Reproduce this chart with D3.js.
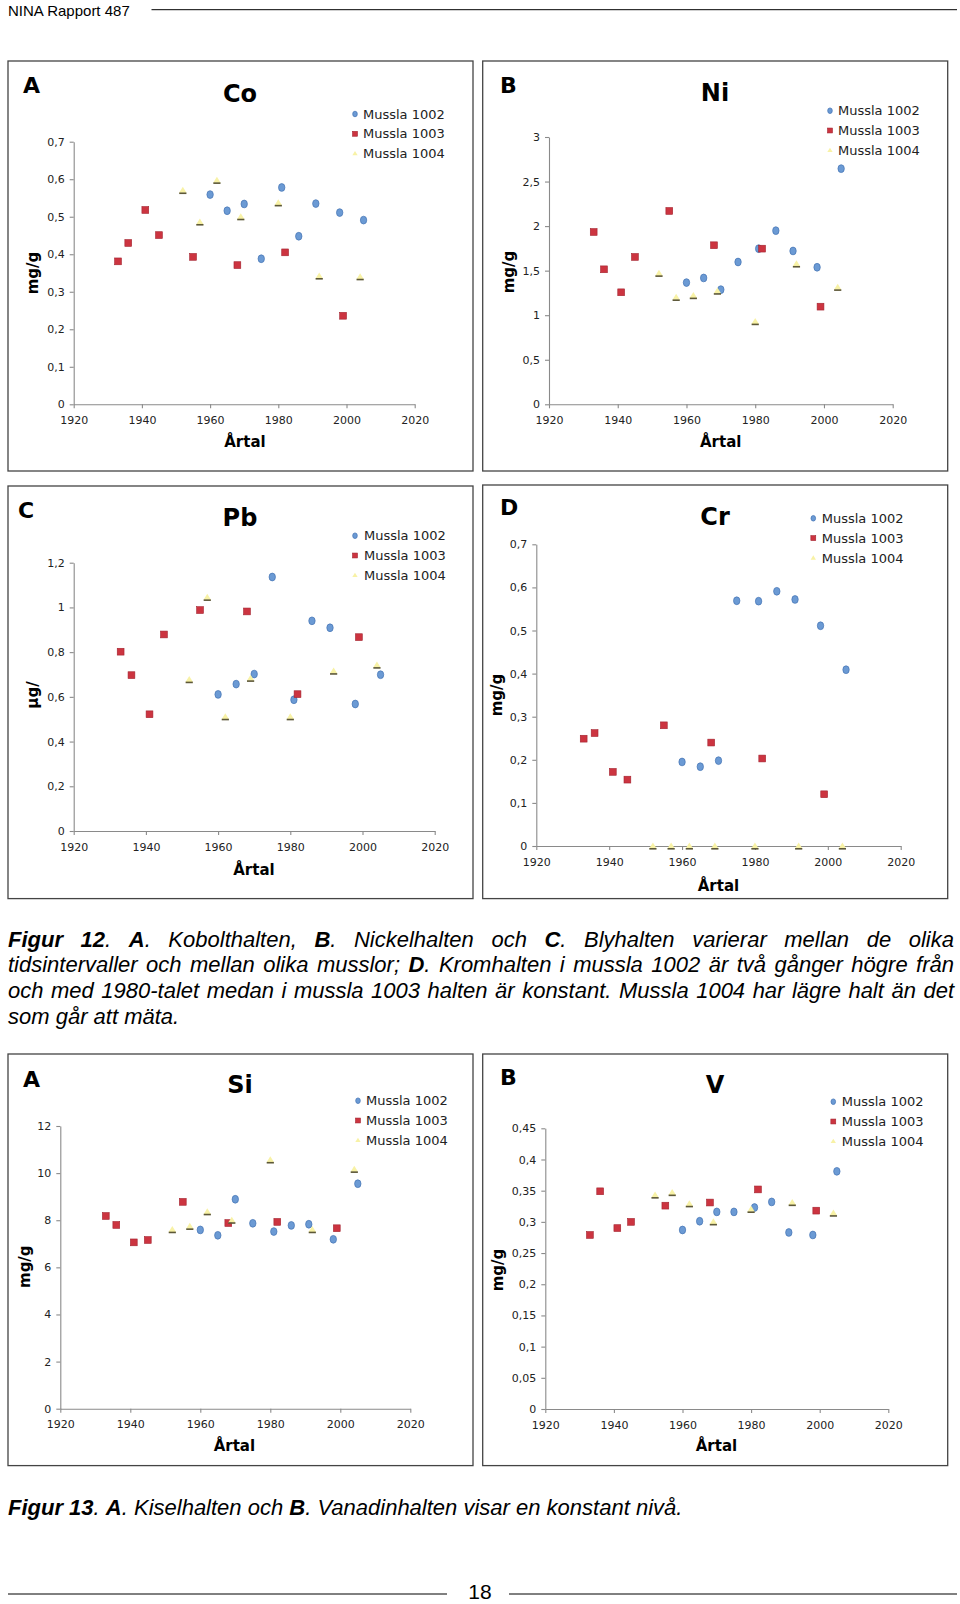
<!DOCTYPE html>
<html>

<head>
    <meta charset="utf-8">
    <script src="https://cdn.jsdelivr.net/npm/d3@7"></script>
    <style>
        body { margin: 0; background: #fff; }
    </style>
</head>

<body>
    <svg id="page"></svg>
</body>
<script>
    // provår: samma år för alla grundämnen
    const xTicks = [1920, 1940, 1960, 1980, 2000, 2020];
    const years1002 = [1960, 1965, 1970, 1975, 1981, 1986, 1991, 1998, 2005];
    const years1003 = [1933, 1936, 1941, 1945, 1955, 1968, 1982, 1999];
    const years1004 = [1952, 1957, 1962, 1969, 1980, 1992, 2004];
    const seriesNames = ["Mussla 1002", "Mussla 1003", "Mussla 1004"];

    // Co
    const co1002 = [0.559, 0.516, 0.534, 0.388, 0.578, 0.448, 0.535, 0.511, 0.491];
    const co1003 = [0.381, 0.430, 0.518, 0.451, 0.393, 0.371, 0.405, 0.236];
    const co1004 = [0.570, 0.486, 0.597, 0.500, 0.537, 0.342, 0.340];
    const coTicks = [0, 0.1, 0.2, 0.3, 0.4, 0.5, 0.6, 0.7];

    // Ni
    const ni1002 = [1.366, 1.418, 1.287, 1.597, 1.747, 1.949, 1.721, 1.538, 2.645];
    const ni1003 = [1.934, 1.515, 1.257, 1.654, 2.170, 1.785, 1.747, 1.096];
    const ni1004 = [1.470, 1.200, 1.220, 1.270, 0.928, 1.575, 1.313];
    const niTicks = [0, 0.5, 1, 1.5, 2, 2.5, 3];

    // Pb
    const pb1002 = [0.611, 0.657, 0.702, 1.136, 0.587, 0.940, 0.909, 0.568, 0.699];
    const pb1003 = [0.802, 0.697, 0.522, 0.879, 0.988, 0.982, 0.612, 0.867];
    const pb1004 = [0.677, 1.045, 0.511, 0.683, 0.511, 0.715, 0.742];
    const pbTicks = [0, 0.2, 0.4, 0.6, 0.8, 1, 1.2];

    // Cr
    const cr1002 = [0.195, 0.184, 0.198, 0.569, 0.568, 0.591, 0.572, 0.511, 0.409];
    const cr1003 = [0.249, 0.262, 0.172, 0.154, 0.280, 0.240, 0.203, 0.120];
    const cr1004 = [0, 0, 0, 0, 0, 0, 0];
    const crTicks = [0, 0.1, 0.2, 0.3, 0.4, 0.5, 0.6, 0.7];

    // Si
    const si1002 = [7.59, 7.36, 8.89, 7.87, 7.52, 7.78, 7.83, 7.19, 9.55];
    const si1003 = [8.18, 7.80, 7.06, 7.16, 8.78, 7.88, 7.93, 7.66];
    const si1004 = [7.60, 7.74, 8.36, 8.00, 10.56, 7.60, 10.16];
    const siTicks = [0, 2, 4, 6, 8, 10, 12];

    // V
    const v1002 = [0.287, 0.301, 0.316, 0.316, 0.323, 0.332, 0.283, 0.279, 0.381];
    const v1003 = [0.279, 0.349, 0.290, 0.300, 0.326, 0.331, 0.352, 0.318];
    const v1004 = [0.343, 0.347, 0.329, 0.300, 0.320, 0.331, 0.314];
    const vTicks = [0, 0.05, 0.1, 0.15, 0.2, 0.25, 0.3, 0.35, 0.4, 0.45];

    const caption12 = [
        "**Figur 12**. **A**. Kobolthalten, **B**. Nickelhalten och **C**. Blyhalten varierar mellan de olika",
        "tidsintervaller och mellan olika musslor; **D**. Kromhalten i mussla 1002 är två gånger högre från",
        "och med 1980-talet medan i mussla 1003 halten är konstant. Mussla 1004 har lägre halt än det",
        "som går att mäta."
    ];
    const caption13 = [
        "**Figur 13**. **A**. Kiselhalten och **B**. Vanadinhalten visar en konstant nivå."
    ];

    const W = 960, H = 1604;
    const chartFont = "'DejaVu Sans', Verdana, sans-serif";
    const textFont = "'Liberation Sans', Arial, Helvetica, sans-serif";
    const axisColor = "#8a8a8a";

    // plassering av panelene (box: x,y,w,h  plot: xLeft,xRight,yBottom,yTop)
    const panels = [
        { letter: "A", title: "Co", yLabel: "mg/g", ticks: coTicks, vals: [co1002, co1003, co1004],
          box: [8, 61, 465, 410], plot: [73.7, 414.7, 404.3, 141.7],
          letterPos: [23, 93], titlePos: [240, 101.5], legend: [355, 363, 114], yLabelPos: [33, 273], xLabelPos: [245, 447] },
        { letter: "B", title: "Ni", yLabel: "mg/g", ticks: niTicks, vals: [ni1002, ni1003, ni1004],
          box: [482.7, 61, 465, 410], plot: [549, 892.7, 404.3, 137],
          letterPos: [500, 93], titlePos: [715, 100.5], legend: [830, 838, 110.7], yLabelPos: [509, 272], xLabelPos: [720.7, 447] },
        { letter: "C", title: "Pb", yLabel: "µg/", ticks: pbTicks, vals: [pb1002, pb1003, pb1004],
          box: [8, 486, 465, 412.6], plot: [73.7, 434.7, 831, 562.7],
          letterPos: [18, 518], titlePos: [240, 525.5], legend: [355, 364, 535.7], yLabelPos: [33, 695], xLabelPos: [254, 875] },
        { letter: "D", title: "Cr", yLabel: "mg/g", ticks: crTicks, vals: [cr1002, cr1003, cr1004],
          box: [482.7, 485, 465, 413.6], plot: [536.3, 900.7, 846, 544.3],
          letterPos: [500, 515], titlePos: [715, 525], legend: [813.3, 821.7, 518.3], yLabelPos: [496.7, 695], xLabelPos: [718.5, 891] },
        { letter: "A", title: "Si", yLabel: "mg/g", ticks: siTicks, vals: [si1002, si1003, si1004],
          box: [8, 1054, 465, 411.6], plot: [60.3, 410.3, 1408.7, 1126],
          letterPos: [23, 1086.7], titlePos: [240, 1093], legend: [358, 366, 1100.7], yLabelPos: [24.7, 1266.7], xLabelPos: [234.4, 1451] },
        { letter: "B", title: "V", yLabel: "mg/g", ticks: vTicks, vals: [v1002, v1003, v1004],
          box: [482.7, 1054, 465, 411.6], plot: [545.3, 888.3, 1409, 1128.3],
          letterPos: [500, 1085], titlePos: [715, 1093], legend: [833.3, 841.7, 1101.7], yLabelPos: [498.3, 1270], xLabelPos: [716.5, 1451] }
    ];
    const yearSets = [years1002, years1003, years1004];

    const svg = d3.select("#page").attr("width", W).attr("height", H);
    svg.append("rect").attr("width", W).attr("height", H).attr("fill", "#fff");

    const commaFmt = d => String(d).replace(".", ",");

    // markörer: 0 = blå diamant, 1 = röd kvadrat, 2 = gul triangel
    function drawMarker(g, type, cx, cy, s) {
        s = s || 1;
        if (type === 0) {
            g.append("ellipse").attr("cx", cx).attr("cy", cy)
                .attr("rx", 3.2 * s).attr("ry", 3.9 * s)
                .attr("fill", "#6b9ad4").attr("stroke", "#4372b3").attr("stroke-width", 0.7);
        } else if (type === 1) {
            g.append("rect").attr("x", cx - 3.4 * s).attr("y", cy - 3.4 * s)
                .attr("width", 6.8 * s).attr("height", 6.8 * s)
                .attr("fill", "#cc3440").attr("stroke", "#a3232f").attr("stroke-width", 0.6);
        } else {
            g.append("path")
                .attr("d", `M${cx},${cy - 3.6 * s}L${cx + 3.7 * s},${cy + 2.4 * s}L${cx - 3.7 * s},${cy + 2.4 * s}Z`)
                .attr("fill", "#f8f2a6");
            if (s >= 1) {
                g.append("rect").attr("x", cx - 3.6).attr("y", cy + 2).attr("width", 7.2).attr("height", 1.6)
                    .attr("fill", "#5d5838");
            }
        }
    }

    function drawPanel(p) {
        const g = svg.append("g");
        g.append("rect").attr("x", p.box[0]).attr("y", p.box[1])
            .attr("width", p.box[2]).attr("height", p.box[3])
            .attr("fill", "#fff").attr("stroke", "#444").attr("stroke-width", 1.3);

        const x = d3.scaleLinear().domain([1920, 2020]).range([p.plot[0], p.plot[1]]);
        const y = d3.scaleLinear().domain([0, p.ticks[p.ticks.length - 1]]).range([p.plot[2], p.plot[3]]);

        const xa = g.append("g").attr("transform", `translate(0,${p.plot[2]})`)
            .call(d3.axisBottom(x).tickValues(xTicks).tickFormat(d3.format("d"))
                .tickSizeInner(4).tickSizeOuter(0).tickPadding(8));
        const ya = g.append("g").attr("transform", `translate(${p.plot[0]},0)`)
            .call(d3.axisLeft(y).tickValues(p.ticks).tickFormat(commaFmt)
                .tickSizeInner(4).tickSizeOuter(0).tickPadding(5));
        [xa, ya].forEach(a => {
            a.select(".domain").attr("stroke", axisColor).attr("stroke-width", 1.1);
            a.selectAll(".tick line").attr("stroke", axisColor).attr("stroke-width", 1.1);
            a.selectAll(".tick text").attr("fill", "#222")
                .style("font-family", chartFont).style("font-size", "11px");
        });

        // punkter
        p.vals.forEach((vals, si) => {
            vals.forEach((v, i) => drawMarker(g, si, x(yearSets[si][i]), y(v)));
        });

        // legend
        seriesNames.forEach((name, i) => {
            const cy = p.legend[2] + i * 19.8;
            drawMarker(g, i, p.legend[0], cy, 0.72);
            g.append("text").attr("x", p.legend[1]).attr("y", cy + 4.6)
                .style("font-family", chartFont).style("font-size", "13px").attr("fill", "#222")
                .text(name);
        });

        g.append("text").attr("x", p.letterPos[0]).attr("y", p.letterPos[1])
            .style("font-family", chartFont).style("font-size", "22px").style("font-weight", "bold")
            .text(p.letter);
        g.append("text").attr("x", p.titlePos[0]).attr("y", p.titlePos[1]).attr("text-anchor", "middle")
            .style("font-family", chartFont).style("font-size", "24px").style("font-weight", "bold")
            .text(p.title);
        g.append("text")
            .attr("transform", `translate(${p.yLabelPos[0] + 5},${p.yLabelPos[1]}) rotate(-90)`)
            .attr("text-anchor", "middle")
            .style("font-family", chartFont).style("font-size", "15px").style("font-weight", "bold")
            .text(p.yLabel);
        g.append("text").attr("x", p.xLabelPos[0]).attr("y", p.xLabelPos[1]).attr("text-anchor", "middle")
            .style("font-family", chartFont).style("font-size", "15px").style("font-weight", "bold")
            .text("Årtal");
    }

    panels.forEach(drawPanel);

    // kursiv bildtext, marginaljusterad utom sista raden
    function drawParagraph(lines, left, right, y0, lineH, size) {
        lines.forEach((line, li) => {
            const y = y0 + li * lineH;
            // dela i ord, men behåll fetstil över mellanslag
            const words = [[]];
            line.split("**").forEach((run, ri) => {
                run.split(" ").forEach((part, k) => {
                    if (k > 0) words.push([]);
                    if (part) words[words.length - 1].push({ text: part, bold: ri % 2 === 1 });
                });
            });
            const placed = words.filter(w => w.length).map(w => {
                const t = svg.append("text").attr("y", y)
                    .style("font-family", textFont).style("font-size", size + "px").style("font-style", "italic");
                w.forEach(r => t.append("tspan").style("font-weight", r.bold ? "bold" : "normal").text(r.text));
                return { t, w: t.node().getComputedTextLength() };
            });
            const sum = d3.sum(placed, d => d.w);
            const last = li === lines.length - 1;
            const gap = last ? size * 0.278 : (right - left - sum) / (placed.length - 1);
            let cx = left;
            placed.forEach(d => { d.t.attr("x", cx); cx += d.w + gap; });
        });
    }

    drawParagraph(caption12, 8, 954, 946.5, 25.9, 22);
    drawParagraph(caption13, 8, 954, 1515, 25.9, 22);

    // sidhuvud och sidfot
    svg.append("text").attr("x", 8).attr("y", 15.5)
        .style("font-family", textFont).style("font-size", "15px").text("NINA Rapport 487");
    svg.append("line").attr("x1", 151.5).attr("x2", 957).attr("y1", 9.7).attr("y2", 9.7)
        .attr("stroke", "#000").attr("stroke-width", 1);
    svg.append("text").attr("x", 480).attr("y", 1599).attr("text-anchor", "middle")
        .style("font-family", textFont).style("font-size", "21px").text("18");
    [[8, 447], [509, 957]].forEach(s => {
        svg.append("line").attr("x1", s[0]).attr("x2", s[1]).attr("y1", 1594).attr("y2", 1594)
            .attr("stroke", "#000").attr("stroke-width", 1);
    });
</script>

</html>
